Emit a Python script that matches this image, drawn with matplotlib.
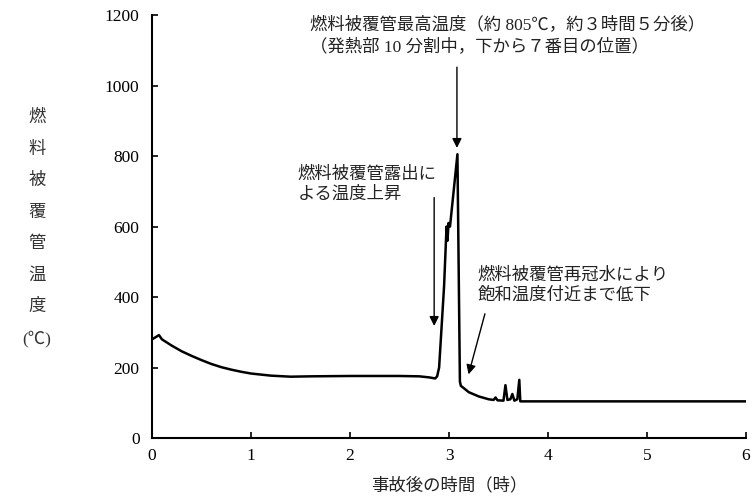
import matplotlib
matplotlib.use('Agg')
import matplotlib.pyplot as plt

# fuel cladding temperature vs time after accident
time_h = [0.0, 0.03, 0.07, 0.1, 0.2, 0.3, 0.4, 0.5, 0.6, 0.7, 0.8, 0.9, 1.0,
          1.2, 1.4, 1.6, 2.0, 2.5, 2.7, 2.8, 2.86, 2.88, 2.9, 2.95, 2.975,
          2.985, 2.995, 3.01, 3.085, 3.11, 3.12, 3.2, 3.3, 3.4, 3.45, 3.47,
          3.49, 3.55, 3.57, 3.59, 3.62, 3.64, 3.66, 3.69, 3.71, 3.72, 6.0]
temp_c = [280, 285, 292, 280, 262, 246, 233, 221, 210, 201, 194, 188, 183,
          177, 174, 175, 176, 176, 175, 172, 169, 175, 200, 430, 600,
          560, 610, 600, 805, 160, 148, 130, 118, 110, 108, 115,
          107, 106, 150, 108, 110, 125, 106, 110, 165, 104, 104]

xticks = [0, 1, 2, 3, 4, 5, 6]
yticks = [0, 200, 400, 600, 800, 1000, 1200]
ylabel_chars = ['燃', '料', '被', '覆', '管', '温', '度', '(℃)']

plt.rcParams['font.family'] = ['Liberation Serif', 'Noto Sans CJK JP']
fs = 12.5

fig = plt.figure(figsize=(7.53, 5.01), dpi=100)
ax = fig.add_axes([0.2019, 0.1257, 0.7888, 0.8443])
ax.plot(time_h, temp_c, color='black', linewidth=1.8)
ax.set_xlim(0, 6)
ax.set_ylim(0, 1200)
ax.set_xticks(xticks)
ax.set_yticks(yticks)
ax.tick_params(direction='in', length=4, width=1.2, labelsize=12.5)
ax.tick_params(axis='y', pad=9)
ax.tick_params(axis='x', pad=7)
for s in ['top', 'right']:
    ax.spines[s].set_visible(False)
for s in ['left', 'bottom']:
    ax.spines[s].set_linewidth(1.5)

ax.set_xlabel('事故後の時間（時）', fontsize=fs, labelpad=10, color='#222222')

# vertical y label, one character per line
for i, ch in enumerate(ylabel_chars):
    fig.text(37 / 753, 1 - (118 + i * 31.5) / 501, ch, fontsize=fs,
             ha='center', va='center', color='#333333')

arrow = dict(arrowstyle='-|>', color='black', lw=1.0, mutation_scale=14)

ax.text(1.6, 1198, '燃料被覆管最高温度（約 805℃，約３時間５分後）\n（発熱部 10 分割中，下から７番目の位置）',
        fontsize=fs, ha='left', va='top', linespacing=1.4, color='#222222')
ax.annotate('', xy=(3.08, 815), xytext=(3.08, 1060), arrowprops=arrow)

ax.text(1.47, 720, '燃料被覆管露出に\nよる温度上昇', fontsize=fs, ha='left',
        va='center', linespacing=1.3, color='#222222')
ax.annotate('', xy=(2.85, 310), xytext=(2.85, 690), arrowprops=arrow)

ax.text(3.29, 433, '燃料被覆管再冠水により\n飽和温度付近まで低下', fontsize=fs,
        ha='left', va='center', linespacing=1.3, color='#222222')
ax.annotate('', xy=(3.19, 173), xytext=(3.37, 360), arrowprops=arrow)

fig.savefig('out.png', dpi=100)
